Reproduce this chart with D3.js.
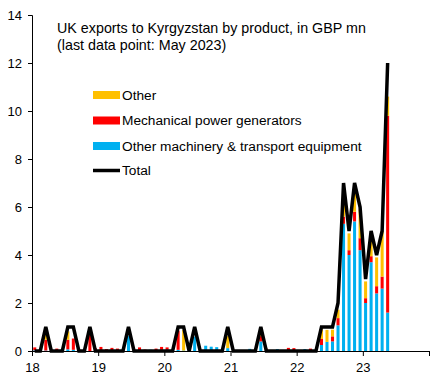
<!DOCTYPE html>
<html>
<head>
<meta charset="utf-8">
<script src="https://cdn.jsdelivr.net/npm/d3@7"></script>
<style>
  body { margin: 0; background: #fff; }
  svg text { font-family: "Liberation Sans", Arial, sans-serif; fill: #000; }
</style>
</head>
<body>
<div id="chart"></div>
<script>
// monthly, Jan 2018 .. May 2023
const months = d3.range(65).map(i => new Date(2018, i, 1));
const machinery = [0.03, 0, 0.02, 0, 0, 0.08, 0.07, 0.05, 0, 0, 0, 0,
                   0, 0, 0.03, 0, 0, 0.62, 0, 0.03, 0, 0.05, 0.03, 0.05,
                   0.05, 0, 0.05, 0.02, 0, 0.6, 0, 0.22, 0.18, 0.16, 0, 0.12,
                   0, 0, 0, 0.09, 0, 0.4, 0, 0.04, 0.08, 0.04, 0.03, 0,
                   0, 0.08, 0, 0, 0.25, 0.38, 0.4, 1.07, 5.3, 4.0, 5.4, 4.2,
                   2.0, 3.7, 2.4, 2.6, 1.6];
const generators = [0.12, 0, 0.45, 0, 0.1, 0, 0.4, 0.47, 0, 0, 0.68, 0.12,
                    0.17, 0.08, 0.1, 0.1, 0, 0, 0, 0.12, 0.06, 0, 0.07, 0.12,
                    0.1, 0, 0.8, 0, 0, 0, 0, 0, 0, 0, 0, 0,
                    0, 0, 0, 0, 0, 0.22, 0.1, 0, 0, 0, 0.1, 0.12,
                    0, 0, 0.1, 0, 0.25, 0, 0.21, 0.3, 0.3, 0.2, 0.4, 0.5,
                    0.2, 0.25, 0.3, 0.5, 8.2];
const other = [0, 0, 0.25, 0, 0, 0, 0.35, 0, 0, 0, 0, 0,
               0, 0, 0, 0, 0, 0, 0, 0, 0, 0, 0, 0,
               0, 0, 0, 0.85, 0, 0, 0, 0, 0, 0, 0, 0.5,
               0, 0, 0, 0, 0, 0.3, 0, 0, 0, 0, 0, 0,
               0, 0, 0, 0, 0.4, 0.5, 0.28, 0.35, 1.1, 0.7, 0.9, 1.2,
               0.7, 0.9, 1.2, 1.9, 0.8];
const total = [0, 0, 1, 0, 0, 0, 1, 1, 0, 0, 1, 0,
               0, 0, 0, 0, 0, 1, 0, 0, 0, 0, 0, 0,
               0, 0, 1, 1, 0, 1, 0, 0, 0, 0, 0, 1,
               0, 0, 0, 0, 0, 1, 0, 0, 0, 0, 0, 0,
               0, 0, 0, 0, 1, 1, 1, 2, 7, 5, 7, 6,
               3, 5, 4, 5, 12];
const yTicks = [0, 2, 4, 6, 8, 10, 12, 14];
const yearTicks = [2018, 2019, 2020, 2021, 2022, 2023, 2024];

const seriesNames = ["machinery", "generators", "other"];
const colors = { machinery: "#00B0F0", generators: "#FF0000", other: "#FFC000" };

const table = months.map((m, i) => ({
  i: i, machinery: machinery[i], generators: generators[i], other: other[i], total: total[i]
}));

const W = 444, H = 377;
const svg = d3.select("#chart").append("svg").attr("width", W).attr("height", H);

const x = d3.scaleBand().domain(d3.range(72)).range([32, 429]).paddingInner(0.45).paddingOuter(0.225);
const xYear = d3.scaleLinear().domain([2018, 2024]).range([32, 429]);
const y = d3.scaleLinear().domain([0, 14]).range([351, 15]);

const stacked = d3.stack().keys(seriesNames)(table);

svg.append("g").selectAll("g")
  .data(stacked)
  .enter().append("g")
    .attr("fill", d => colors[d.key])
  .selectAll("rect")
  .data(d => d)
  .enter().append("rect")
    .attr("x", d => x(d.data.i))
    .attr("width", x.bandwidth())
    .attr("y", d => y(d[1]))
    .attr("height", d => y(d[0]) - y(d[1]));

const line = d3.line()
  .x(d => x(d.i) + x.bandwidth() / 2)
  .y(d => y(d.total));

svg.append("path")
  .datum(table)
  .attr("fill", "none")
  .attr("stroke", "#000")
  .attr("stroke-width", 3.5)
  .attr("d", line);

// axes
const yAxis = svg.append("g")
  .attr("transform", "translate(32,0)")
  .call(d3.axisLeft(y).tickValues(yTicks).tickSize(4).tickPadding(6));
yAxis.select(".domain").attr("stroke", "#000");
yAxis.selectAll("text").style("font-size", "13px");

const xAxis = svg.append("g")
  .attr("transform", "translate(0,351)")
  .call(d3.axisBottom(xYear).tickValues(yearTicks).tickSize(5).tickSizeOuter(0)
        .tickFormat(d => d < 2024 ? String(d - 2000) : "").tickPadding(7));
xAxis.selectAll("text").style("font-size", "13px");

// title
const title = svg.append("text").attr("x", 57).attr("y", 33).style("font-size", "14.3px");
title.append("tspan").attr("x", 57).text("UK exports to Kyrgyzstan by product, in GBP mn");
title.append("tspan").attr("x", 57).attr("dy", 17).text("(last data point: May 2023)");

// legend
const legendItems = [
  { label: "Other", key: "other", y: 95 },
  { label: "Mechanical power generators", key: "generators", y: 120.5 },
  { label: "Other machinery & transport equipment", key: "machinery", y: 146 },
  { label: "Total", key: "total", y: 170.5 }
];
const lg = svg.append("g");
legendItems.forEach(it => {
  if (it.key === "total") {
    lg.append("line").attr("x1", 93).attr("x2", 120).attr("y1", it.y).attr("y2", it.y)
      .attr("stroke", "#000").attr("stroke-width", 3.5);
  } else {
    lg.append("rect").attr("x", 93).attr("y", it.y - 4).attr("width", 27).attr("height", 8)
      .attr("fill", colors[it.key]);
  }
  lg.append("text").attr("x", 122).attr("y", it.y + 4.5).style("font-size", "13.7px").text(it.label);
});
</script>
</body>
</html>
